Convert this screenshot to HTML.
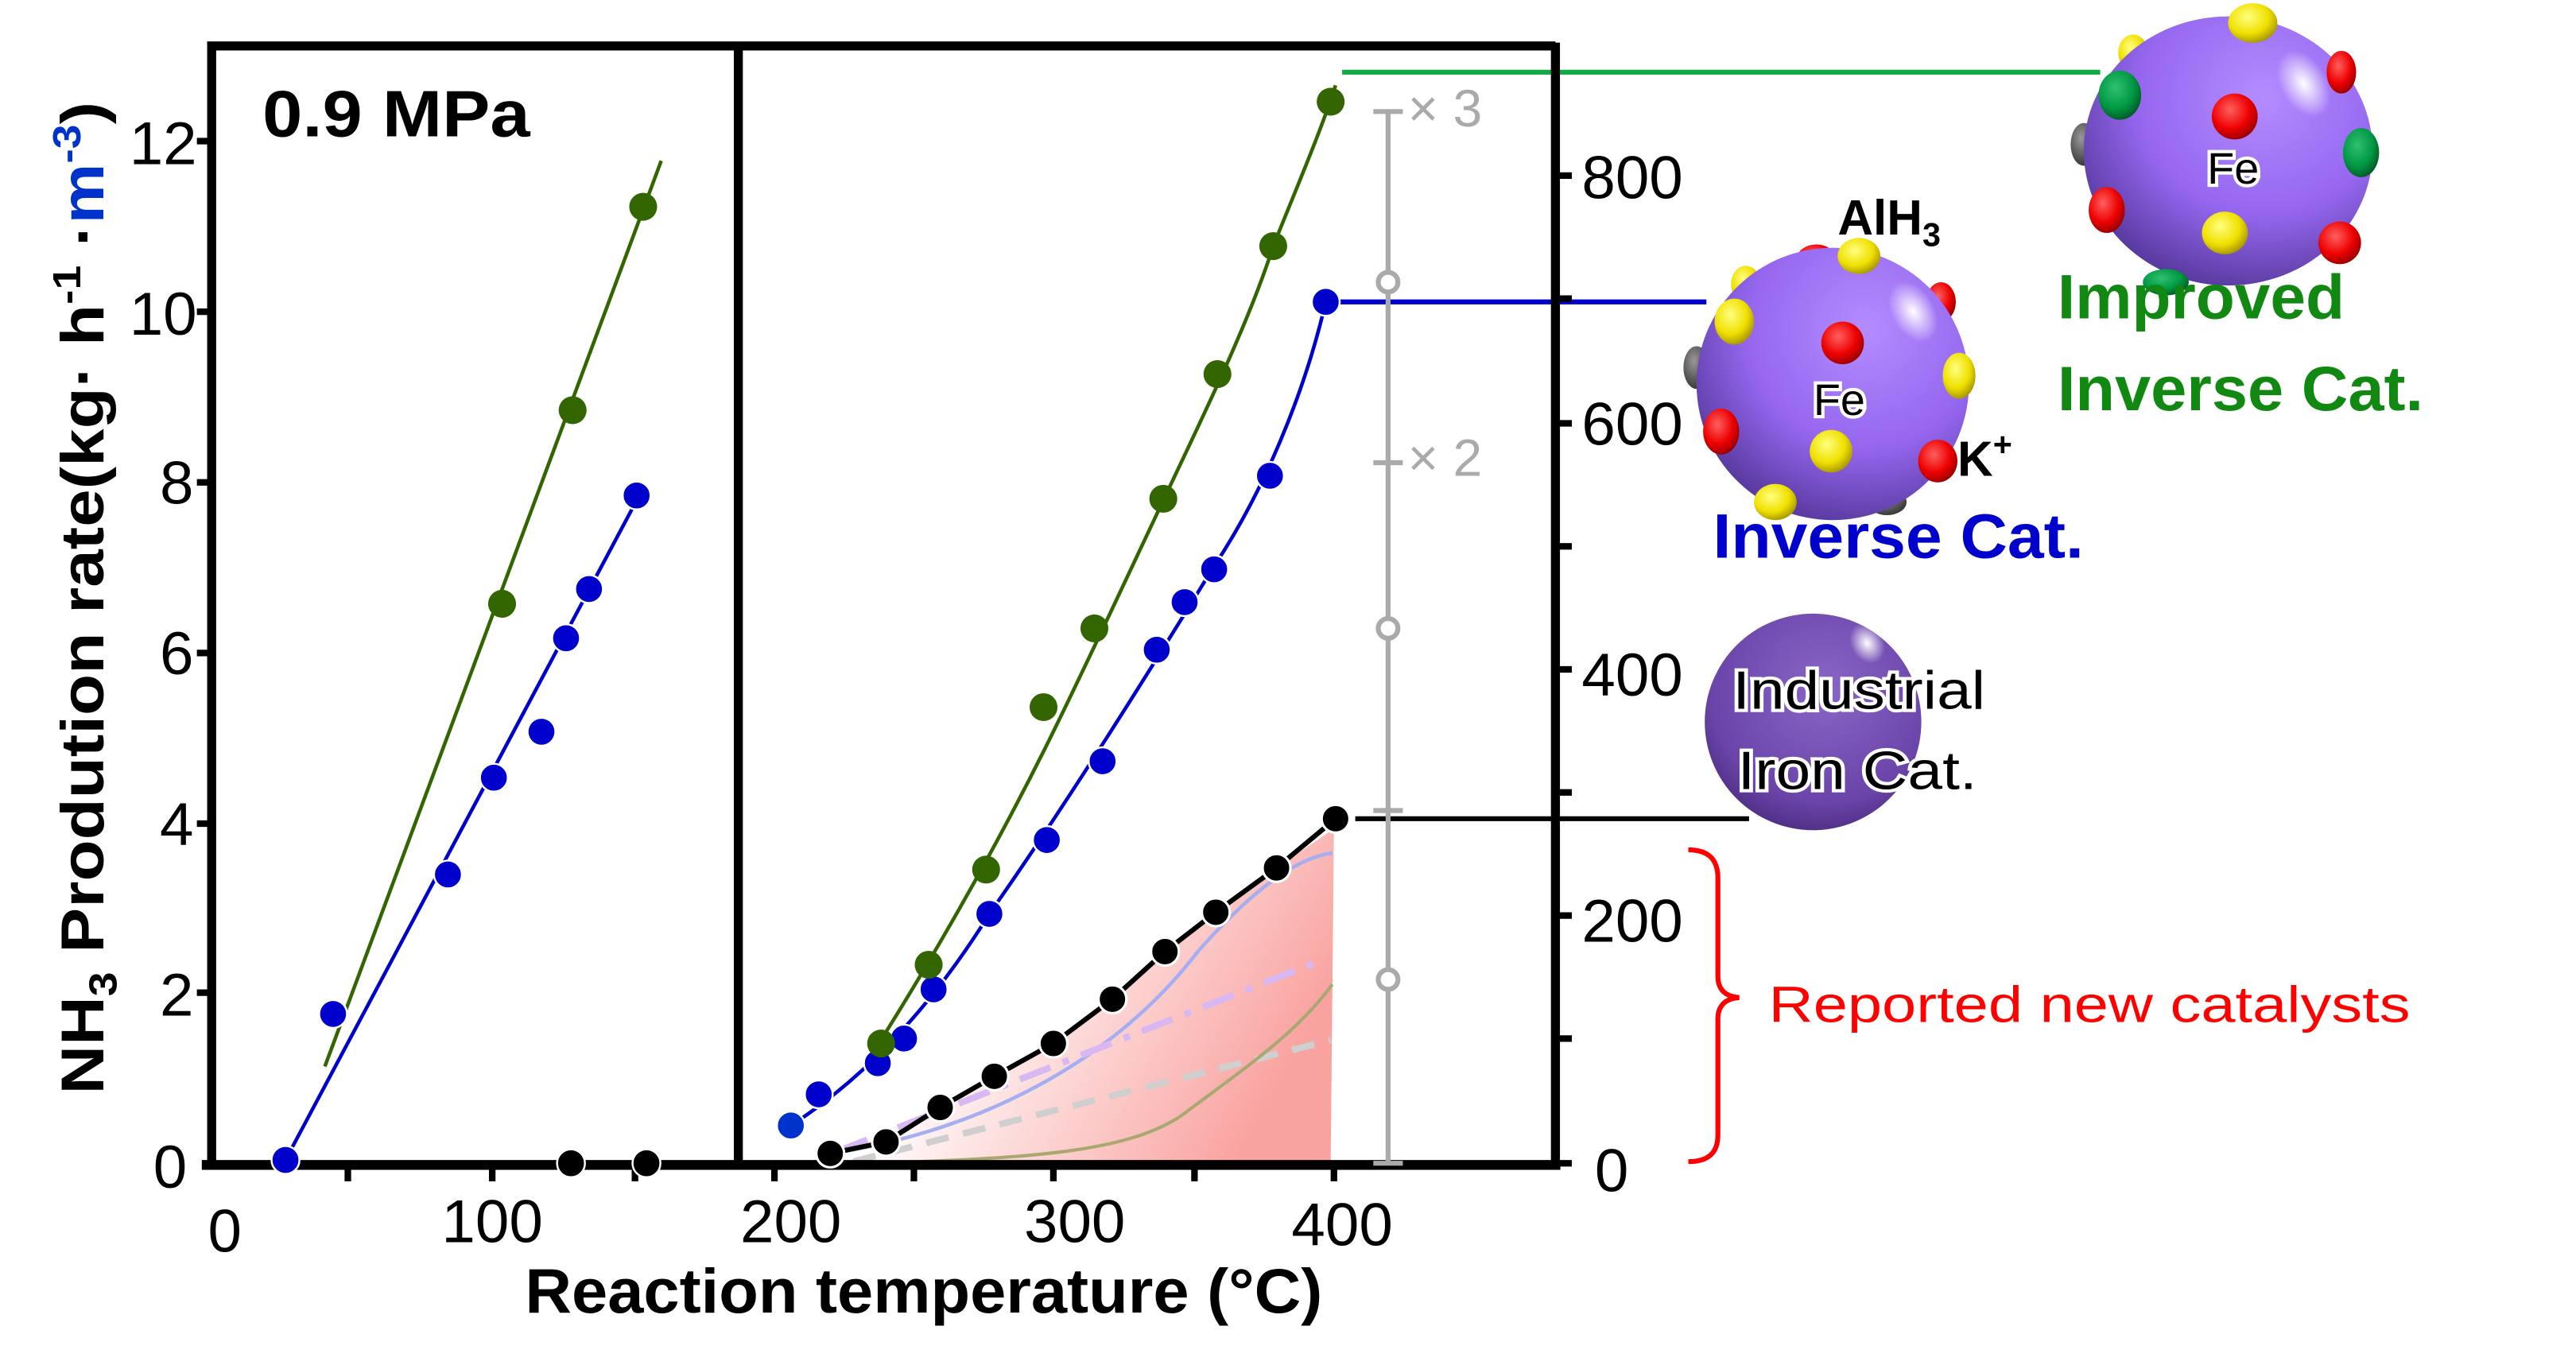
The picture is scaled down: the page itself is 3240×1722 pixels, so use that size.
<!DOCTYPE html>
<html><head><meta charset="utf-8"><style>
html,body{margin:0;padding:0;background:#fff;}
svg{display:block;}
text{font-family:"Liberation Sans",Arial,sans-serif;}
</style></head><body>
<svg width="3240" height="1722" viewBox="0 0 1570 834.4" preserveAspectRatio="none" xmlns="http://www.w3.org/2000/svg">
<defs>
<linearGradient id="pink" x1="600" y1="560" x2="780" y2="660" gradientUnits="userSpaceOnUse">
<stop offset="0" stop-color="#ffffff"/><stop offset="1" stop-color="#f9a3a0"/></linearGradient>
<radialGradient id="sph" cx="0.62" cy="0.3" r="0.8">
<stop offset="0" stop-color="#b48cff"/><stop offset="0.55" stop-color="#9466ee"/><stop offset="1" stop-color="#4a2f8c"/></radialGradient>
<radialGradient id="ind" cx="0.55" cy="0.35" r="0.75">
<stop offset="0" stop-color="#8a66c8"/><stop offset="0.7" stop-color="#6a44a8"/><stop offset="1" stop-color="#3e2370"/></radialGradient>
<radialGradient id="ry" cx="0.4" cy="0.35" r="0.7"><stop offset="0" stop-color="#ffff80"/><stop offset="0.6" stop-color="#f0e000"/><stop offset="1" stop-color="#a09000"/></radialGradient>
<radialGradient id="rr" cx="0.4" cy="0.35" r="0.7"><stop offset="0" stop-color="#ff6060"/><stop offset="0.6" stop-color="#ee0000"/><stop offset="1" stop-color="#900000"/></radialGradient>
<radialGradient id="rg" cx="0.4" cy="0.35" r="0.7"><stop offset="0" stop-color="#30c070"/><stop offset="0.6" stop-color="#009944"/><stop offset="1" stop-color="#005522"/></radialGradient>
<radialGradient id="rk" cx="0.4" cy="0.35" r="0.7"><stop offset="0" stop-color="#999"/><stop offset="1" stop-color="#333"/></radialGradient>
<radialGradient id="hl"><stop offset="0" stop-color="#fff" stop-opacity="1"/><stop offset="1" stop-color="#fff" stop-opacity="0"/></radialGradient>
</defs>

<path d="M506,709 L506,703 L540,696 L573,675 L606,656 L642,636 L678,609 L710,580 L741,556 L778,529 L813,505 L811,709 Z" fill="url(#pink)"/>
<path d="M500,704 C600,690 680,645 730,580 C770,535 795,522 812,520" fill="none" stroke="#a6aef2" stroke-width="2.2"/>
<path d="M510,702 L806,585" fill="none" stroke="#d8b8f2" stroke-width="4" stroke-dasharray="20,8,4,8"/>
<path d="M520,708 L811,634" fill="none" stroke="#cfcfcf" stroke-width="4" stroke-dasharray="14,9"/>
<path d="M560,708 C640,705 690,700 720,680 C760,650 790,630 812,600" fill="none" stroke="#a8a870" stroke-width="2"/>

<line x1="818" y1="44" x2="1280" y2="44" stroke="#11aa44" stroke-width="3"/>
<line x1="812" y1="184" x2="1040" y2="184" stroke="#0000cc" stroke-width="3"/>
<line x1="826" y1="499" x2="1066" y2="499" stroke="#000" stroke-width="3"/>

<path d="M129,710 L129,28 L948,28" fill="none" stroke="#000" stroke-width="5.5"/>
<line x1="450" y1="28" x2="450" y2="710" stroke="#000" stroke-width="5.5"/>
<line x1="948" y1="26" x2="948" y2="712" stroke="#000" stroke-width="5.5"/>
<line x1="123" y1="710" x2="951" y2="710" stroke="#000" stroke-width="6"/>
<g stroke="#000" stroke-width="4">
<line x1="120" y1="86" x2="129" y2="86"/><line x1="120" y1="190" x2="129" y2="190"/><line x1="120" y1="294" x2="129" y2="294"/><line x1="120" y1="398" x2="129" y2="398"/><line x1="120" y1="502" x2="129" y2="502"/><line x1="120" y1="605" x2="129" y2="605"/>
<line x1="212" y1="710" x2="212" y2="720"/><line x1="300" y1="710" x2="300" y2="720"/><line x1="387" y1="710" x2="387" y2="720"/>
<line x1="472" y1="710" x2="472" y2="720"/><line x1="557" y1="710" x2="557" y2="720"/><line x1="642" y1="710" x2="642" y2="720"/><line x1="728" y1="710" x2="728" y2="720"/><line x1="813" y1="710" x2="813" y2="720"/>
<line x1="948" y1="107" x2="958" y2="107"/><line x1="948" y1="182" x2="958" y2="182"/><line x1="948" y1="258" x2="958" y2="258"/><line x1="948" y1="333" x2="958" y2="333"/><line x1="948" y1="408" x2="958" y2="408"/><line x1="948" y1="483" x2="958" y2="483"/><line x1="948" y1="558" x2="958" y2="558"/><line x1="948" y1="633" x2="958" y2="633"/><line x1="948" y1="709" x2="958" y2="709"/>
</g>
<g font-size="37" fill="#000" text-anchor="end">
<text x="120" y="100">12</text><text x="120" y="204">10</text><text x="118" y="307">8</text><text x="118" y="411">6</text><text x="118" y="515">4</text><text x="118" y="619">2</text><text x="114" y="724">0</text>
</g>
<g font-size="37" fill="#000" text-anchor="middle">
<text x="137" y="763">0</text><text x="300" y="757">100</text><text x="482" y="757">200</text><text x="655" y="757">300</text><text x="818" y="759">400</text>
</g>
<g font-size="37" fill="#000">
<text x="964" y="121">800</text><text x="964" y="271">600</text><text x="964" y="424">400</text><text x="964" y="574">200</text><text x="972" y="726">0</text>
</g>
<text x="563" y="800" font-size="38" font-weight="bold" text-anchor="middle" textLength="486" lengthAdjust="spacingAndGlyphs">Reaction temperature (°C)</text>
<text transform="translate(63,667) rotate(-90)" font-size="37" font-weight="bold" textLength="605" lengthAdjust="spacingAndGlyphs">NH<tspan font-size="24" dy="8">3</tspan><tspan dy="-8"> Prodution rate(kg· h</tspan><tspan font-size="24" dy="-14">-1</tspan><tspan dy="14"> ·</tspan><tspan fill="#0033cc">m</tspan><tspan font-size="24" dy="-14" fill="#0033cc">-3</tspan><tspan dy="14">)</tspan></text>
<text x="160" y="83" font-size="40" font-weight="bold" textLength="163" lengthAdjust="spacingAndGlyphs">0.9 MPa</text>

<line x1="198" y1="650" x2="403" y2="98" stroke="#336600" stroke-width="2.2"/>
<line x1="174" y1="707" x2="388" y2="305" stroke="#0000cc" stroke-width="2.2"/>
<g fill="#336600"><circle cx="306" cy="368" r="8.5"/><circle cx="349" cy="250" r="8.5"/><circle cx="392" cy="126" r="8.5"/></g>
<g fill="#0000cc" stroke="#fff" stroke-width="1.2"><circle cx="174" cy="707" r="8.5"/><circle cx="203" cy="618" r="8.5"/><circle cx="273" cy="533" r="8.5"/><circle cx="301" cy="474" r="8.5"/><circle cx="330" cy="446" r="8.5"/><circle cx="345" cy="389" r="8.5"/><circle cx="359" cy="359" r="8.5"/><circle cx="388" cy="302" r="8.5"/></g>
<g fill="#000" stroke="#fff" stroke-width="1.2"><circle cx="348" cy="709" r="8.5"/><circle cx="394" cy="709" r="8.5"/></g>

<path d="M528,648 C560,598 600,530 636,458 C660,410 690,345 709,305 C730,260 760,200 776,150 C790,115 805,80 814,52" fill="none" stroke="#336600" stroke-width="2.2"/>
<path d="M482,686 C530,655 570,610 603,557 C650,490 700,410 740,345 C770,300 795,240 808,184" fill="none" stroke="#0000cc" stroke-width="2.2"/>
<polyline points="506,703 540,696 573,675 606,656 642,636 678,609 710,580 741,556 778,529 814,499" fill="none" stroke="#000" stroke-width="3" stroke-linejoin="round"/>
<g fill="#0000cc" stroke="#fff" stroke-width="1.2"><circle cx="482" cy="686" r="8.5" fill="#0033cc"/><circle cx="499" cy="667" r="8.5"/><circle cx="535" cy="648" r="8.5"/><circle cx="551" cy="633" r="8.5"/><circle cx="569" cy="603" r="8.5"/><circle cx="603" cy="557" r="8.5"/><circle cx="638" cy="512" r="8.5"/><circle cx="672" cy="464" r="8.5"/><circle cx="705" cy="396" r="8.5"/><circle cx="722" cy="367" r="8.5"/><circle cx="740" cy="347" r="8.5"/><circle cx="774" cy="290" r="8.5"/><circle cx="808" cy="184" r="8.5"/></g>
<g fill="#336600"><circle cx="537" cy="636" r="8.5"/><circle cx="566" cy="588" r="8.5"/><circle cx="601" cy="530" r="8.5"/><circle cx="636" cy="431" r="8.5"/><circle cx="667" cy="383" r="8.5"/><circle cx="709" cy="304" r="8.5"/><circle cx="742" cy="228" r="8.5"/><circle cx="776" cy="150" r="8.5"/><circle cx="811" cy="62" r="8.5"/></g>
<g fill="#000" stroke="#fff" stroke-width="1.5"><circle cx="506" cy="703" r="8.5"/><circle cx="540" cy="696" r="8.5"/><circle cx="573" cy="675" r="8.5"/><circle cx="606" cy="656" r="8.5"/><circle cx="642" cy="636" r="8.5"/><circle cx="678" cy="609" r="8.5"/><circle cx="710" cy="580" r="8.5"/><circle cx="741" cy="556" r="8.5"/><circle cx="778" cy="529" r="8.5"/><circle cx="814" cy="499" r="8.5"/></g>

<g stroke="#aaaaaa" stroke-width="3" fill="#fff">
<line x1="846" y1="68" x2="846" y2="709"/>
<line x1="837" y1="68" x2="855" y2="68"/><line x1="837" y1="282" x2="855" y2="282"/><line x1="837" y1="494" x2="855" y2="494"/><line x1="837" y1="709" x2="855" y2="709"/>
<circle cx="846" cy="172" r="6"/><circle cx="846" cy="383" r="6"/><circle cx="846" cy="597" r="6"/>
</g>
<text x="858" y="77" font-size="32" fill="#aaaaaa">× 3</text>
<text x="858" y="290" font-size="32" fill="#aaaaaa">× 2</text>

<path d="M1029,518 Q1047,518 1047,535 L1047,595 Q1047,607 1060,608 Q1047,609 1047,621 L1047,692 Q1047,708 1029,708" fill="none" stroke="#ff0000" stroke-width="3"/>
<text x="1078" y="623" font-size="31" fill="#ff0000" textLength="391" lengthAdjust="spacingAndGlyphs">Reported new catalysts</text>

<g>
<ellipse cx="1270" cy="88" rx="8" ry="13" fill="url(#rk)"/>
<ellipse cx="1300" cy="32" rx="9" ry="11" fill="url(#ry)"/>
<ellipse cx="1358" cy="92" rx="88" ry="82" fill="url(#sph)"/>
<ellipse cx="1404" cy="51" rx="14" ry="22" transform="rotate(-30 1404 51)" fill="url(#hl)"/>
<ellipse cx="1373" cy="14" rx="15" ry="12" fill="url(#ry)"/>
<ellipse cx="1292" cy="58" rx="13" ry="15" fill="url(#rg)"/>
<ellipse cx="1427" cy="44" rx="9" ry="13" fill="url(#rr)"/>
<ellipse cx="1362" cy="71" rx="14" ry="14" fill="url(#rr)"/>
<ellipse cx="1439" cy="93" rx="11" ry="15" fill="url(#rg)"/>
<ellipse cx="1284" cy="128" rx="11" ry="14" fill="url(#rr)"/>
<ellipse cx="1356" cy="142" rx="14" ry="13" fill="url(#ry)"/>
<ellipse cx="1426" cy="148" rx="13" ry="13" fill="url(#rr)"/>
<ellipse cx="1320" cy="172" rx="14" ry="8" fill="url(#rg)"/>
<text x="1361" y="112" font-size="27" text-anchor="middle" fill="#000" stroke="#fff" stroke-width="4" paint-order="stroke">Fe</text>
</g>
<text x="1254" y="194" font-size="38" font-weight="bold" fill="#118811" textLength="175" lengthAdjust="spacingAndGlyphs">Improved</text>
<text x="1254" y="250" font-size="38" font-weight="bold" fill="#118811" textLength="223" lengthAdjust="spacingAndGlyphs">Inverse Cat.</text>

<g>
<ellipse cx="1034" cy="224" rx="8" ry="13" fill="url(#rk)"/>
<ellipse cx="1150" cy="306" rx="12" ry="8" fill="url(#rk)"/>
<ellipse cx="1107" cy="158" rx="12" ry="9" fill="url(#rr)"/>
<ellipse cx="1064" cy="173" rx="9" ry="11" fill="url(#ry)"/>
<ellipse cx="1183" cy="184" rx="9" ry="12" fill="url(#rr)"/>
<ellipse cx="1117" cy="234" rx="83" ry="83" fill="url(#sph)"/>
<ellipse cx="1166" cy="190" rx="13" ry="20" transform="rotate(-30 1166 190)" fill="url(#hl)"/>
<ellipse cx="1133" cy="156" rx="13" ry="11" fill="url(#ry)"/>
<ellipse cx="1057" cy="196" rx="12" ry="14" fill="url(#ry)"/>
<ellipse cx="1123" cy="209" rx="13" ry="13" fill="url(#rr)"/>
<ellipse cx="1194" cy="229" rx="10" ry="14" fill="url(#ry)"/>
<ellipse cx="1049" cy="263" rx="11" ry="14" fill="url(#rr)"/>
<ellipse cx="1116" cy="275" rx="13" ry="13" fill="url(#ry)"/>
<ellipse cx="1181" cy="281" rx="12" ry="13" fill="url(#rr)"/>
<ellipse cx="1082" cy="306" rx="13" ry="11" fill="url(#ry)"/>
<text x="1121" y="253" font-size="27" text-anchor="middle" fill="#000" stroke="#fff" stroke-width="4" paint-order="stroke">Fe</text>
</g>
<text x="1120" y="143" font-size="30" font-weight="bold" fill="#000">AlH<tspan font-size="20" dy="7">3</tspan></text>
<text x="1193" y="290" font-size="30" font-weight="bold" fill="#000">K<tspan font-size="20" dy="-12">+</tspan></text>
<text x="1044" y="340" font-size="38" font-weight="bold" fill="#0000cc" textLength="226" lengthAdjust="spacingAndGlyphs">Inverse Cat.</text>

<ellipse cx="1105" cy="440" rx="66" ry="66" fill="url(#ind)"/>
<ellipse cx="1138" cy="392" rx="10" ry="13" transform="rotate(-30 1138 392)" fill="url(#hl)"/>
<text x="1056" y="432" font-size="33" fill="#000" stroke="#fff" stroke-width="4" paint-order="stroke" textLength="154" lengthAdjust="spacingAndGlyphs">Industrial</text>
<text x="1059" y="481" font-size="33" fill="#000" stroke="#fff" stroke-width="4" paint-order="stroke" textLength="146" lengthAdjust="spacingAndGlyphs">Iron Cat.</text>
</svg>
</body></html>
